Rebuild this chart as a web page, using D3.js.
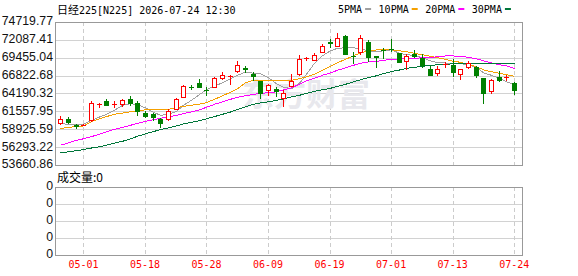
<!DOCTYPE html>
<html>
<head>
<meta charset="utf-8">
<script src="https://cdn.jsdelivr.net/npm/d3@7"></script>
<style>
body { margin: 0; background: #fff; }
svg { display: block; }
.mono { font-family: "DejaVu Sans Mono", "Liberation Mono", monospace; font-size: 10px; }
.cjk { font-family: "Noto Sans CJK SC", sans-serif; }
</style>
</head>
<body>
<svg id="chart" width="578" height="276"></svg>
<script>
var dates = ["04-27","04-28","04-30","05-01","05-07","05-08","05-11","05-12","05-13","05-14","05-15",
    "05-18","05-19","05-20","05-21","05-22","05-25","05-26","05-27","05-28","05-29",
    "06-01","06-02","06-03","06-04","06-05","06-08","06-09","06-10","06-11","06-12",
    "06-15","06-16","06-17","06-18","06-19","06-22","06-23","06-24","06-25","06-26",
    "06-29","06-30","07-01","07-02","07-03","07-06","07-07","07-08","07-09","07-10",
    "07-13","07-14","07-15","07-16","07-17","07-21","07-22","07-23","07-24"];

var opens  = [59846,60494,59611,59540,60244,62680,63145,62620,62644,63336,62850,61377,61172,60494,60494,
    61967,63734,65180,65796,64710,65148,66473,66797,67460,68000,67121,66031,64765,64912,63528,
    65295,67018,69433,69183,70361,71731,71245,72644,69742,70302,71775,69669,70626,70773,70111,
    68977,70037,69478,67784,67209,68461,68417,67121,68152,68049,66429,64544,66576,66488,65693];
var highs  = [60877,60685,59655,59660,63042,62730,63336,63042,63336,63778,63145,61569,61377,60538,61967,
    63528,65398,65398,66385,65148,66620,67357,66871,68933,68196,67357,66090,65649,65148,64765,
    67121,69816,69522,70155,71539,72172,73056,72762,70332,72762,72025,69698,70891,72246,70184,
    70007,70552,70067,68196,68299,68785,69227,67798,68933,68167,66503,66282,67563,66871,65884];
var lows   = [59655,59802,59066,59500,60170,62202,62452,62200,62350,62555,61083,60730,60347,59257,60347,
    61908,63704,64809,65104,64029,65104,66385,65648,67416,67357,66135,63528,63925,63852,62305,
    65251,66974,69154,69154,70331,70994,71215,69965,68712,70067,68933,68123,69448,70405,68786,
    67857,69522,68093,66944,66974,68123,66753,66282,67975,66606,62791,64264,66031,66208,64176];
var closes = [60494,59993,59464,59610,62850,62710,62555,62650,63292,62747,61613,60877,60730,59905,61613,
    63336,65251,65130,65148,64660,66473,66973,66841,68447,67860,66723,64220,65398,64515,64264,
    66031,69330,69477,69919,71141,71657,72393,70037,69669,72423,69551,69595,70552,70700,68859,
    69742,69669,68343,66974,67725,68520,67357,67754,68682,66900,64264,66237,66208,66547,64662];

var ma5  = [59758,59654,59610,59654,60244,60730,61127,61716,62453,62703,62526,62085,61422,60980,61127,
    61569,62453,63189,64028,64765,65251,65796,66385,66871,67357,67165,67092,66503,65619,65103,
    64912,65693,67018,68638,69742,70479,70847,70921,70921,70773,70449,70332,70479,70626,70111,
    69890,69816,69448,69006,68741,68682,68594,68594,68417,68049,67239,66871,66429,65913,65545];
var ma10 = [59021,59213,59316,59404,60052,60464,60788,61127,61304,61495,61672,61775,61834,61834,61864,
    62085,62305,62453,62629,62850,63336,63852,64367,64883,65766,66134,66134,66134,66134,66134,
    66134,66355,66650,67018,67607,68196,68712,69227,69742,70184,70479,70597,70626,70626,70479,
    70332,70111,69890,69669,69448,69227,68933,68785,68491,68122,67681,67386,67165,66974,66723];
var ma20 = [56562,56930,57298,57519,57843,58182,58550,58918,59213,59507,59802,60096,60317,60538,60759,
    60980,61230,61495,61790,62158,62600,62968,63336,63631,63852,64073,64220,64293,64441,64735,
    65030,65545,66061,66429,66871,67239,67607,67975,68343,68638,68829,68933,69080,69198,69271,
    69330,69374,69448,69522,69595,69713,69713,69669,69522,69301,69006,68712,68417,68270,67857];
var ma30 = [55428,55605,55781,55929,56164,56341,56591,56886,57151,57519,57887,58255,58579,58874,59139,
    59404,59728,59949,60199,60464,60788,61127,61466,61819,62232,62600,62791,62968,63189,63410,
    63704,63925,64220,64514,64735,64956,65251,65545,65913,66208,66532,66797,67121,67416,67651,
    67902,68049,68196,68343,68417,68491,68564,68594,68594,68594,68594,68594,68594,68594,68594];

var yTicks = [74719.77,72087.41,69455.04,66822.68,64190.32,61557.95,58925.59,56293.22,53660.86];
var volTicks = ["0","0","0","0","0"];
var dateTicks = ["05-01","05-18","05-28","06-09","06-19","07-01","07-13","07-24"];
var maNames = ["5PMA","10PMA","20PMA","30PMA"];
var maColors = ["#a0a0a0","#f5a000","#ff00ff","#00763a"];

var UP = "#ff0000", DOWN = "#008000";
var L = 55, R = 522, T = 22, B = 165, VT = 187, VB = 255;

var svg = d3.select("#chart");

var x = d3.scaleBand().domain(dates).range([56.5, 56.5 + dates.length * 7.692]);
var y = d3.scaleLinear().domain([53660.86, 74719.77]).range([B, T]);
var vy = d3.scaleLinear().domain([0, 4]).range([VB, VT]);
function cx(d) { return Math.round(x(d) + x.bandwidth() / 2); }

// grid lines, main panel
svg.append("g").selectAll("line").data(yTicks.slice(1, -1)).join("line")
    .attr("x1", L).attr("x2", R)
    .attr("y1", d => Math.round(y(d)) + 0.5).attr("y2", d => Math.round(y(d)) + 0.5)
    .attr("stroke", "#d2d2d2");
// grid lines, volume panel
svg.append("g").selectAll("line").data([1, 2, 3]).join("line")
    .attr("x1", L).attr("x2", R)
    .attr("y1", d => Math.round(vy(d)) + 0.5).attr("y2", d => Math.round(vy(d)) + 0.5)
    .attr("stroke", "#d2d2d2");

// dashed date lines in both panels
[[T, B], [VT, VB]].forEach(function (p) {
    svg.append("g").selectAll("line").data(dateTicks).join("line")
        .attr("x1", d => cx(d) + 0.5).attr("x2", d => cx(d) + 0.5)
        .attr("y1", p[0]).attr("y2", p[1])
        .attr("stroke", "#cccccc")
        .attr("stroke-dasharray", "4,3");
});

// watermark
svg.append("text")
    .attr("class", "cjk")
    .attr("x", 242).attr("y", 106)
    .attr("font-size", 32).attr("font-weight", "bold")
    .attr("fill", "#e8e8ed")
    .text("东方财富");

// frames
[[T, B], [VT, VB]].forEach(function (p) {
    svg.append("rect")
        .attr("x", L + 0.5).attr("y", p[0] + 0.5)
        .attr("width", R - L).attr("height", p[1] - p[0])
        .attr("fill", "none").attr("stroke", "#999");
});

// moving averages
var maData = [ma5, ma10, ma20, ma30];
var ma_g = svg.append("g").attr("shape-rendering", "crispEdges");
maData.forEach(function (arr, k) {
    ma_g.append("path")
        .datum(arr)
        .attr("fill", "none")
        .attr("stroke", maColors[k])
        .attr("stroke-width", 1)
        .attr("d", d3.line()
            .x((d, i) => cx(dates[i]) + 0.5)
            .y(d => y(d)));
});

// candles
var candles = dates.map(function (d, i) {
    return { date: d, o: opens[i], h: highs[i], l: lows[i], c: closes[i] };
});
var cg = svg.append("g").attr("shape-rendering", "crispEdges");
candles.forEach(function (k) {
    var xc = cx(k.date);
    var up = k.c >= k.o;
    var col = up ? UP : DOWN;
    var top = Math.round(y(Math.max(k.o, k.c)));
    var bot = Math.round(y(Math.min(k.o, k.c)));
    var hi = Math.round(y(k.h)), lo = Math.round(y(k.l));
    if (up) {
        cg.append("line").attr("x1", xc + 0.5).attr("x2", xc + 0.5)
            .attr("y1", hi).attr("y2", top).attr("stroke", col);
        cg.append("line").attr("x1", xc + 0.5).attr("x2", xc + 0.5)
            .attr("y1", bot).attr("y2", lo + 1).attr("stroke", col);
        if (bot - top < 2) {
            cg.append("rect").attr("x", xc - 2).attr("y", top)
                .attr("width", 5).attr("height", Math.max(1, bot - top)).attr("fill", col);
        } else {
            cg.append("rect").attr("x", xc - 1.5).attr("y", top + 0.5)
                .attr("width", 4).attr("height", bot - top)
                .attr("fill", "#fff").attr("stroke", col);
        }
    } else {
        cg.append("line").attr("x1", xc + 0.5).attr("x2", xc + 0.5)
            .attr("y1", hi).attr("y2", lo + 1).attr("stroke", col);
        cg.append("rect").attr("x", xc - 2).attr("y", top)
            .attr("width", 5).attr("height", Math.max(1, bot - top + 1)).attr("fill", col);
    }
});

// y axis, main
svg.append("g")
    .attr("transform", "translate(53,-1)")
    .call(d3.axisLeft(y).tickValues(yTicks).tickFormat(d3.format(".2f")).tickSize(0).tickPadding(0))
    .call(g => g.select(".domain").remove())
    .attr("font-family", "'Liberation Sans', Arial, sans-serif")
    .attr("font-size", 12.3)
    .selectAll("text").attr("fill", "#111");

// y axis, volume
svg.append("g")
    .attr("transform", "translate(53,-1)")
    .call(d3.axisLeft(vy).tickValues([4, 3, 2, 1, 0]).tickFormat((d, i) => volTicks[i]).tickSize(0).tickPadding(0))
    .call(g => g.select(".domain").remove())
    .attr("font-family", "'Liberation Sans', Arial, sans-serif")
    .attr("font-size", 12.3)
    .selectAll("text").attr("fill", "#111");

// date axis
svg.append("g")
    .attr("transform", "translate(0," + VB + ")")
    .call(d3.axisBottom(x).tickValues(dateTicks).tickSize(0).tickPadding(6))
    .call(g => g.select(".domain").remove())
    .attr("font-family", "'DejaVu Sans Mono', monospace")
    .attr("font-size", 10)
    .selectAll("text").attr("fill", "#ff0000");

// title
var title = svg.append("text").attr("x", 57).attr("y", 14).attr("class", "mono").attr("fill", "#000");
title.append("tspan").attr("class", "cjk").attr("font-size", 11).text("日经");
title.append("tspan").text("225[N225] 2026-07-24 12:30");

// legend
var lx = 338;
maNames.forEach(function (name, k) {
    var t = svg.append("text").attr("class", "mono").attr("x", lx).attr("y", 13).attr("fill", "#000").text(name);
    var w = t.node().getComputedTextLength();
    svg.append("rect").attr("x", lx + w + 3).attr("y", 8).attr("width", 6).attr("height", 2).attr("fill", maColors[k]);
    lx = lx + w + 3 + 6 + 7.5;
});

// volume label
svg.append("text").attr("class", "cjk").attr("x", 57).attr("y", 182)
    .attr("font-size", 12).attr("fill", "#000").text("成交量:0");
</script>
</body>
</html>
